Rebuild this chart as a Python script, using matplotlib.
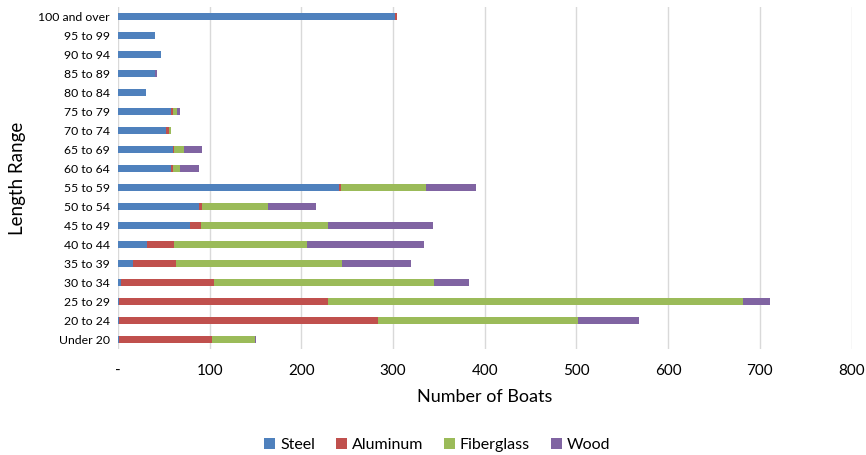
import numpy as np
import matplotlib.pyplot as plt

plt.rcParams['font.family'] = ['Lato', 'DejaVu Sans']

# Boat counts by length range, top row first
lengths = ["100 and over", "95 to 99", "90 to 94", "85 to 89", "80 to 84",
           "75 to 79", "70 to 74", "65 to 69", "60 to 64", "55 to 59",
           "50 to 54", "45 to 49", "40 to 44", "35 to 39", "30 to 34",
           "25 to 29", "20 to 24", "Under 20"]
steel = [302, 40, 47, 40, 30, 58, 52, 60, 58, 241, 88, 79, 32, 16, 3, 1, 1, 1]
aluminum = [2, 0, 0, 0, 0, 2, 4, 1, 2, 2, 4, 12, 29, 47, 102, 228, 282, 101]
fiberglass = [0, 0, 0, 0, 0, 4, 2, 11, 8, 93, 72, 138, 145, 181, 240, 453, 219, 47]
wood = [0, 0, 0, 2, 0, 4, 0, 20, 20, 54, 52, 114, 128, 76, 38, 29, 66, 2]

series = [("Steel", steel, "#4f81bd"),
          ("Aluminum", aluminum, "#c0504d"),
          ("Fiberglass", fiberglass, "#9bbb59"),
          ("Wood", wood, "#8064a2")]

fig = plt.figure(figsize=(8.66, 4.55), dpi=100)
ax = fig.add_axes([0.1363, 0.233, 0.847, 0.752])

y = np.arange(len(lengths))
left = np.zeros(len(lengths))
for name, vals, color in series:
    vals = np.array(vals, dtype=float)
    ax.barh(y, vals, left=left, height=0.36, color=color, label=name, zorder=3)
    left += vals

ax.set_ylim(len(lengths) - 0.5, -0.5)
ax.set_xlim(0, 800)
xticks = np.arange(0, 801, 100)
ax.set_xticks(xticks)
ax.set_xticklabels(["-"] + [str(t) for t in xticks[1:]], fontsize=11)
ax.set_yticks(y)
ax.set_yticklabels(lengths, fontsize=8.8)
ax.tick_params(length=0, pad=6)
ax.tick_params(axis='x', pad=11)

ax.grid(axis='x', color="#d9d9d9", linewidth=1, zorder=0)
for s in ax.spines.values():
    s.set_visible(False)

ax.set_xlabel("Number of Boats", fontsize=13, labelpad=8)
ax.set_ylabel("Length Range", fontsize=13.5, labelpad=9)

fig.legend(loc='center', bbox_to_anchor=(0.505, 0.022), ncol=4, frameon=False,
           fontsize=11.5, handlelength=0.7, handleheight=0.7, handletextpad=0.3,
           columnspacing=1.3)

fig.savefig("out.png", dpi=100)
